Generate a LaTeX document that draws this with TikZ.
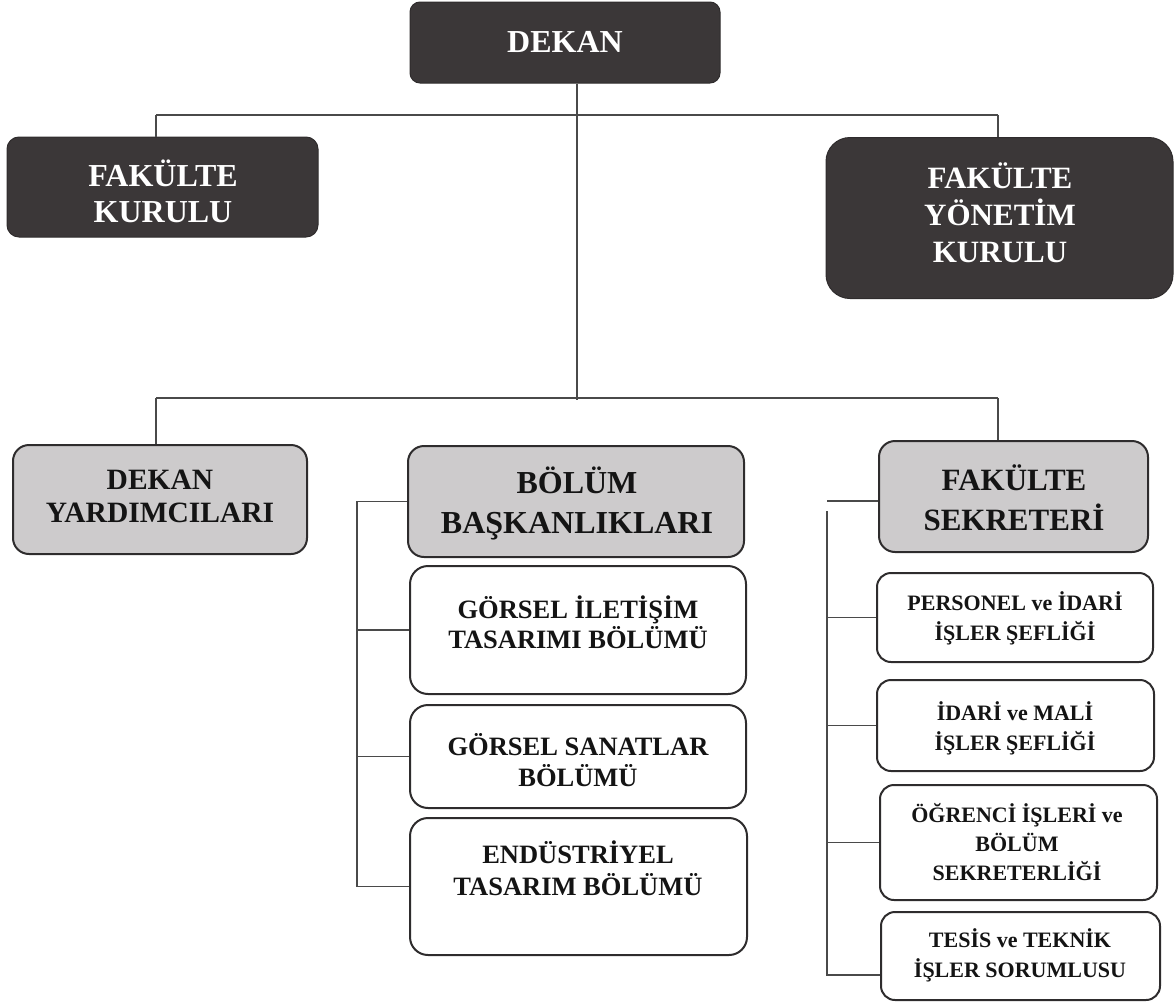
\documentclass[tikz,border=0pt]{standalone}
\usepackage{fontspec}
\setmainfont{Liberation Serif}
\definecolor{darkfill}{HTML}{3B3738}
\definecolor{grayfill}{HTML}{CDCBCC}
\definecolor{boxedge}{HTML}{2E2C2D}
\definecolor{connline}{HTML}{4A4A4A}
\newcommand{\orgfont}[2]{\fontsize{#1}{#2}\selectfont\bfseries}
\tikzset{
  orgbox/.style={draw=boxedge, line width=2pt, inner sep=0pt},
  darkbox/.style={orgbox, fill=darkfill, draw=darkfill!80!black, line width=1pt},
  graybox/.style={orgbox, fill=grayfill},
  whitebox/.style={orgbox, fill=white},
  lbl/.style={inner sep=0pt, align=center, text=black!92},
  wlbl/.style={lbl, text=white},
  conn/.style={draw=connline, line width=1.3pt},
}
\begin{document}
\begin{tikzpicture}[x=1pt,y=-1pt]
\useasboundingbox (0,0) rectangle (1175,1004);
% ---------- boxes ----------
\node[darkbox, rounded corners=10pt, minimum width=310pt, minimum height=81pt] (dekan) at (565,42.5) {};
\node[darkbox, rounded corners=12pt, minimum width=311pt, minimum height=100pt] (fk) at (162.5,187) {};
\node[darkbox, rounded corners=24pt, minimum width=347pt, minimum height=161pt] (fyk) at (999.5,218) {};
\node[graybox, rounded corners=16pt, minimum width=294pt, minimum height=109pt] (dy) at (160,499.5) {};
\node[graybox, rounded corners=16pt, minimum width=336pt, minimum height=111pt] (bb) at (576,501.5) {};
\node[whitebox, rounded corners=18pt, minimum width=336pt, minimum height=128pt] (gs1) at (578,630) {};
\node[whitebox, rounded corners=18pt, minimum width=336pt, minimum height=103pt] (gs2) at (578,756.5) {};
\node[whitebox, rounded corners=18pt, minimum width=337pt, minimum height=137pt] (gs3) at (578.5,886.5) {};
\node[graybox, rounded corners=16pt, minimum width=269pt, minimum height=111pt] (fs) at (1013.5,496.5) {};
\node[whitebox, rounded corners=14pt, minimum width=276pt, minimum height=89pt] (p1) at (1015,617.5) {};
\node[whitebox, rounded corners=14pt, minimum width=277pt, minimum height=91pt] (p2) at (1015.5,725.5) {};
\node[whitebox, rounded corners=14pt, minimum width=277pt, minimum height=115pt] (p3) at (1018.5,842.5) {};
\node[whitebox, rounded corners=14pt, minimum width=279pt, minimum height=88pt] (p4) at (1020.5,956) {};
% ---------- texts ----------
\node[wlbl, font=\orgfont{32}{36}] (dekant) at (565,42) {DEKAN};
\node[wlbl, font=\orgfont{32}{36}] (fkt) at (163,191) {FAKÜLTE\\KURULU};
\node[wlbl, font=\orgfont{31}{37}] (fykt) at (1000,213) {FAKÜLTE\\YÖNETİM\\KURULU};
\node[lbl, font=\orgfont{29.5}{33}] (dyt) at (160,496) {DEKAN\\YARDIMCILARI};
\node[lbl, font=\orgfont{32}{40}] (bbt) at (577,503) {BÖLÜM\\BAŞKANLIKLARI};
\node[lbl, font=\orgfont{26.5}{30}] (gs1t) at (578,622) {GÖRSEL İLETİŞİM\\TASARIMI BÖLÜMÜ};
\node[lbl, font=\orgfont{26.5}{31}] (gs2t) at (578,760) {GÖRSEL SANATLAR\\BÖLÜMÜ};
\node[lbl, font=\orgfont{26.5}{32}] (gs3t) at (578,868) {ENDÜSTRİYEL\\TASARIM BÖLÜMÜ};
\node[lbl, font=\orgfont{31}{40}] (fst) at (1014,498) {FAKÜLTE\\SEKRETERİ};
\node[lbl, font=\orgfont{22}{30}] (p1t) at (1015,618) {PERSONEL ve İDARİ\\İŞLER ŞEFLİĞİ};
\node[lbl, font=\orgfont{22}{30}] (p2t) at (1015,728) {İDARİ ve MALİ\\İŞLER ŞEFLİĞİ};
\node[lbl, font=\orgfont{22}{29}] (p3t) at (1017,842) {ÖĞRENCİ İŞLERİ ve\\BÖLÜM\\SEKRETERLİĞİ};
\node[lbl, font=\orgfont{22}{30}] (p4t) at (1020,955) {TESİS ve TEKNİK\\İŞLER SORUMLUSU};
% ---------- connectors ----------
\coordinate (j1) at (577,115);
\coordinate (j2) at (577,400);
\coordinate (l1) at (156,115);
\coordinate (r1) at (998,115);
\coordinate (l2) at (156,398);
\coordinate (r2) at (998,398);
\draw[conn] (dekan.south -| j1) -- (j2);
\draw[conn] (l1) -- (r1);
\draw[conn] (l1) -- (l1 |- fk.north);
\draw[conn] (r1) -- (r1 |- fyk.north);
\draw[conn] (l2) -- (r2);
\draw[conn] (l2) -- (l2 |- dy.north);
\draw[conn] (r2) -- (r2 |- fs.north);
% left bracket
\coordinate (lb) at (357,0);
\draw[conn] (bb.west) -- (bb.west -| lb) -- (gs3.west -| lb) -- (gs3.west);
\draw[conn] (gs1.west -| lb) -- (gs1.west);
\draw[conn] (gs2.west -| lb) -- (gs2.west);
% right bracket
\coordinate (rbtop) at (827,511);
\coordinate (rbbot) at (827,975);
\coordinate (fstick) at (827,501);
\draw[conn] (fstick) -- (fstick -| fs.west);
\draw[conn] (rbtop) -- (rbbot) -- (rbbot -| p4.west);
\draw[conn] (p1.west -| rbtop) -- (p1.west);
\draw[conn] (p2.west -| rbtop) -- (p2.west);
\draw[conn] (p3.west -| rbtop) -- (p3.west);
\end{tikzpicture}
\end{document}
